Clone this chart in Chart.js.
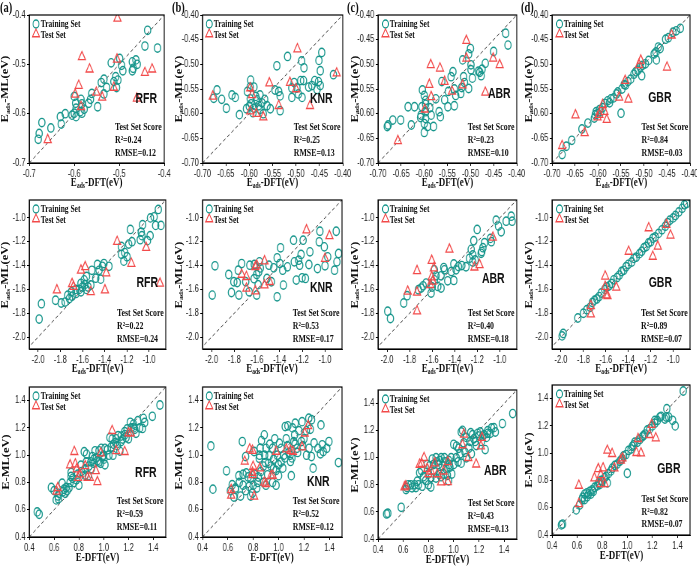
<!DOCTYPE html>
<html><head><meta charset="utf-8">
<script src="https://cdn.jsdelivr.net/npm/chart.js@4.4.1/dist/chart.umd.min.js"></script>
<style>
html,body{margin:0;padding:0;background:#fff;overflow:hidden;width:697px;height:571px}
#wrap{position:absolute;left:0;top:0;width:930px;height:571px;transform:scaleX(0.75);transform-origin:0 0;}
.abs{position:absolute;white-space:nowrap;line-height:1}
.ser{font-family:"Liberation Serif","Times New Roman",serif;font-weight:bold;color:#111}
.san{font-family:"Liberation Sans",Arial,sans-serif;font-weight:bold;color:#111}
canvas{position:absolute}
sub{font-size:0.62em;vertical-align:-0.25em}
</style></head><body><div id="wrap"></div>
<script>
// ---------------- DATA ----------------
const MODELS = ['RFR','KNR','ABR','GBR'];
const PANEL_LABELS = ['(a)','(b)','(c)','(d)'];
const R2_SCORES   = ['0.24','0.25','0.23','0.84','0.22','0.53','0.40','0.89','0.59','0.52','0.43','0.82'];
const RMSE_SCORES = ['0.12','0.13','0.10','0.03','0.24','0.17','0.18','0.07','0.11','0.12','0.13','0.07'];

const RANGE_R1 = [-0.7,-0.4];
const RANGE_R2X = [-2.08,-0.85];
const RANGE_R2Y = [-2.1,-0.85];
const RANGE_R3 = [0.4,1.5];
const DIAG_R1 = [-0.7,-0.4];
const DIAG_R2 = [-2.1,-0.85];
const DIAG_R3 = [0.4,1.5];

const TICKS_R1A = ['-0.7','-0.6','-0.5','-0.4'];
const TICKS_R1 = ['-0.70','-0.65','-0.60','-0.55','-0.50','-0.45','-0.40'];
const TICKS_R2 = ['-2.0','-1.8','-1.6','-1.4','-1.2','-1.0'];
const TICKS_R3 = ['0.4','0.6','0.8','1.0','1.2','1.4'];

const A1_TRAIN = [[-0.437,-0.431],[-0.443,-0.463],[-0.415,-0.467],[-0.499,-0.488],[-0.518,-0.497],[-0.495,-0.502],[-0.492,-0.513],[-0.471,-0.495],[-0.463,-0.491],[-0.46,-0.5],[-0.471,-0.513],[-0.469,-0.508],[-0.508,-0.525],[-0.503,-0.532],[-0.512,-0.535],[-0.506,-0.547],[-0.54,-0.537],[-0.534,-0.53],[-0.528,-0.547],[-0.534,-0.56],[-0.561,-0.559],[-0.564,-0.571],[-0.568,-0.579],[-0.548,-0.586],[-0.585,-0.571],[-0.583,-0.58],[-0.578,-0.591],[-0.587,-0.596],[-0.6,-0.565],[-0.597,-0.579],[-0.596,-0.589],[-0.6,-0.599],[-0.596,-0.606],[-0.605,-0.603],[-0.583,-0.599],[-0.62,-0.6],[-0.631,-0.606],[-0.629,-0.621],[-0.652,-0.629],[-0.672,-0.618],[-0.678,-0.64],[-0.68,-0.652]];
const A1_TEST = [[-0.504,-0.407],[-0.583,-0.485],[-0.566,-0.51],[-0.505,-0.49],[-0.443,-0.517],[-0.427,-0.51],[-0.461,-0.569],[-0.59,-0.543],[-0.598,-0.561],[-0.551,-0.557],[-0.538,-0.567],[-0.512,-0.547],[-0.585,-0.586],[-0.659,-0.653]];

const B1_TRAIN = [[-0.445,-0.476],[-0.451,-0.492],[-0.448,-0.513],[-0.42,-0.521],[-0.518,-0.484],[-0.488,-0.493],[-0.483,-0.507],[-0.541,-0.503],[-0.49,-0.533],[-0.484,-0.533],[-0.504,-0.537],[-0.509,-0.548],[-0.498,-0.548],[-0.473,-0.546],[-0.46,-0.533],[-0.452,-0.535],[-0.466,-0.543],[-0.455,-0.551],[-0.448,-0.543],[-0.545,-0.552],[-0.537,-0.555],[-0.534,-0.564],[-0.509,-0.567],[-0.495,-0.56],[-0.487,-0.567],[-0.555,-0.59],[-0.534,-0.594],[-0.562,-0.584],[-0.567,-0.571],[-0.597,-0.532],[-0.598,-0.546],[-0.604,-0.555],[-0.59,-0.546],[-0.586,-0.565],[-0.583,-0.572],[-0.577,-0.562],[-0.58,-0.584],[-0.59,-0.589],[-0.6,-0.585],[-0.577,-0.591],[-0.57,-0.6],[-0.669,-0.552],[-0.659,-0.571],[-0.637,-0.562],[-0.63,-0.567],[-0.649,-0.589],[-0.621,-0.602],[-0.676,-0.569],[-0.598,-0.57],[-0.596,-0.58],[-0.606,-0.59],[-0.592,-0.598],[-0.573,-0.578]];
const B1_TEST = [[-0.497,-0.469],[-0.413,-0.518],[-0.598,-0.548],[-0.594,-0.562],[-0.557,-0.538],[-0.513,-0.537],[-0.5,-0.55],[-0.537,-0.584],[-0.47,-0.584],[-0.598,-0.595],[-0.585,-0.6],[-0.57,-0.607],[-0.678,-0.565]];

const C1_TRAIN = [[-0.424,-0.437],[-0.419,-0.461],[-0.45,-0.474],[-0.5,-0.468],[-0.504,-0.479],[-0.517,-0.491],[-0.499,-0.501],[-0.499,-0.511],[-0.496,-0.528],[-0.468,-0.498],[-0.475,-0.51],[-0.48,-0.516],[-0.477,-0.523],[-0.483,-0.514],[-0.515,-0.525],[-0.513,-0.537],[-0.519,-0.547],[-0.504,-0.549],[-0.521,-0.559],[-0.538,-0.515],[-0.542,-0.525],[-0.535,-0.55],[-0.532,-0.563],[-0.535,-0.584],[-0.562,-0.535],[-0.548,-0.555],[-0.556,-0.572],[-0.549,-0.586],[-0.568,-0.596],[-0.565,-0.606],[-0.585,-0.603],[-0.58,-0.626],[-0.604,-0.552],[-0.6,-0.563],[-0.597,-0.573],[-0.597,-0.581],[-0.597,-0.596],[-0.597,-0.61],[-0.6,-0.62],[-0.6,-0.638],[-0.593,-0.626],[-0.605,-0.586],[-0.607,-0.603],[-0.608,-0.608],[-0.621,-0.586],[-0.635,-0.586],[-0.628,-0.623],[-0.651,-0.613],[-0.668,-0.613],[-0.678,-0.623],[-0.68,-0.626],[-0.575,-0.57],[-0.588,-0.588]];
const C1_TEST = [[-0.509,-0.452],[-0.509,-0.488],[-0.586,-0.501],[-0.566,-0.508],[-0.451,-0.488],[-0.437,-0.501],[-0.468,-0.557],[-0.556,-0.535],[-0.54,-0.555],[-0.517,-0.542],[-0.589,-0.541],[-0.585,-0.566],[-0.599,-0.591],[-0.657,-0.655]];

const D1_TRAIN = [[-0.678,-0.683],[-0.669,-0.666],[-0.657,-0.654],[-0.635,-0.631],[-0.622,-0.619],[-0.608,-0.609],[-0.606,-0.602],[-0.604,-0.596],[-0.601,-0.6],[-0.597,-0.592],[-0.594,-0.596],[-0.59,-0.588],[-0.585,-0.579],[-0.579,-0.574],[-0.575,-0.578],[-0.572,-0.57],[-0.566,-0.568],[-0.56,-0.56],[-0.557,-0.556],[-0.55,-0.599],[-0.548,-0.55],[-0.543,-0.541],[-0.54,-0.542],[-0.535,-0.535],[-0.529,-0.53],[-0.522,-0.52],[-0.518,-0.515],[-0.513,-0.512],[-0.508,-0.506],[-0.505,-0.523],[-0.503,-0.502],[-0.497,-0.499],[-0.49,-0.492],[-0.478,-0.479],[-0.474,-0.475],[-0.473,-0.491],[-0.469,-0.465],[-0.465,-0.468],[-0.453,-0.449],[-0.447,-0.446],[-0.437,-0.435],[-0.43,-0.432],[-0.421,-0.427]];
const D1_TEST = [[-0.44,-0.441],[-0.45,-0.506],[-0.507,-0.492],[-0.511,-0.501],[-0.541,-0.533],[-0.554,-0.567],[-0.534,-0.571],[-0.59,-0.582],[-0.597,-0.602],[-0.601,-0.607],[-0.586,-0.596],[-0.581,-0.612],[-0.649,-0.603],[-0.629,-0.639],[-0.678,-0.665]];

const A2_TRAIN = [[-0.917,-0.929],[-0.988,-1.0],[-0.955,-0.991],[-0.941,-1.063],[-0.893,-1.063],[-0.991,-1.149],[-1.015,-1.191],[-1.059,-1.057],[-1.071,-1.12],[-1.065,-1.149],[-1.08,-1.183],[-1.169,-1.097],[-1.154,-1.2],[-1.184,-1.22],[-1.22,-1.291],[-1.199,-1.326],[-1.228,-1.363],[-1.25,-1.24],[-1.249,-1.306],[-1.362,-1.406],[-1.407,-1.383],[-1.421,-1.406],[-1.451,-1.44],[-1.436,-1.514],[-1.481,-1.506],[-1.525,-1.563],[-1.516,-1.44],[-1.585,-1.52],[-1.564,-1.6],[-1.614,-1.549],[-1.629,-1.6],[-1.614,-1.62],[-1.659,-1.634],[-1.694,-1.657],[-1.718,-1.677],[-1.733,-1.649],[-1.757,-1.706],[-1.792,-1.714],[-1.843,-1.691],[-1.97,-1.72],[-1.991,-1.849],[-1.564,-1.491],[-1.466,-1.391],[-1.55,-1.58],[-1.58,-1.56],[-1.6,-1.58],[-1.66,-1.6],[-1.7,-1.62]];
const A2_TEST = [[-1.288,-1.2],[-1.16,-1.383],[-1.027,-1.249],[-0.902,-1.549],[-1.614,-1.44],[-1.576,-1.411],[-1.386,-1.463],[-1.398,-1.606],[-1.525,-1.62],[-1.694,-1.554],[-1.682,-1.577],[-1.831,-1.606]];

const B2_TRAIN = [[-1.97,-1.402],[-1.994,-1.648],[-1.045,-1.112],[-0.901,-1.112],[-1.051,-1.201],[-1.006,-1.243],[-0.88,-1.299],[-0.895,-1.369],[-0.976,-1.327],[-1.0,-1.402],[-1.066,-1.425],[-0.916,-1.439],[-1.133,-1.285],[-1.142,-1.391],[-1.193,-1.187],[-1.277,-1.187],[-1.392,-1.251],[-1.232,-1.355],[-1.223,-1.397],[-1.211,-1.307],[-1.271,-1.369],[-1.253,-1.522],[-1.202,-1.503],[-1.172,-1.508],[-1.331,-1.411],[-1.373,-1.439],[-1.422,-1.335],[-1.398,-1.383],[-1.452,-1.419],[-1.367,-1.564],[-1.422,-1.662],[-1.494,-1.397],[-1.473,-1.536],[-1.512,-1.508],[-1.578,-1.369],[-1.584,-1.452],[-1.602,-1.648],[-1.623,-1.391],[-1.663,-1.397],[-1.669,-1.62],[-1.699,-1.536],[-1.735,-1.383],[-1.765,-1.439],[-1.774,-1.542],[-1.759,-1.648],[-1.804,-1.536],[-1.849,-1.475],[-1.825,-1.626],[-1.602,-1.475],[-1.57,-1.42],[-1.625,-1.51],[-1.59,-1.56]];
const B2_TEST = [[-1.163,-1.103],[-0.961,-1.151],[-1.0,-1.341],[-1.533,-1.363],[-1.602,-1.397],[-1.614,-1.411],[-1.735,-1.475],[-1.693,-1.494],[-1.693,-1.592],[-1.614,-1.614],[-1.533,-1.564],[-1.488,-1.536]];

const C2_TRAIN = [[-0.899,-0.986],[-0.944,-1.028],[-1.033,-1.019],[-1.012,-1.069],[-0.988,-1.117],[-0.891,-1.028],[-1.201,-1.097],[-1.083,-1.172],[-1.075,-1.2],[-1.136,-1.208],[-1.16,-1.283],[-1.15,-1.25],[-1.166,-1.297],[-1.231,-1.192],[-1.254,-1.264],[-1.24,-1.311],[-1.269,-1.339],[-1.219,-1.353],[-1.337,-1.4],[-1.367,-1.408],[-1.388,-1.436],[-1.408,-1.386],[-1.408,-1.525],[-1.462,-1.528],[-1.491,-1.436],[-1.497,-1.417],[-1.521,-1.486],[-1.55,-1.575],[-1.521,-1.589],[-1.565,-1.486],[-1.58,-1.52],[-1.609,-1.631],[-1.654,-1.547],[-1.698,-1.589],[-1.722,-1.603],[-1.68,-1.57],[-1.822,-1.653],[-1.852,-1.714],[-1.994,-1.783],[-1.97,-1.844],[-1.58,-1.436],[-1.6,-1.58],[-1.24,-1.37],[-1.3,-1.41],[-1.43,-1.45]];
const C2_TEST = [[-1.447,-1.264],[-1.062,-1.164],[-1.734,-1.444],[-1.604,-1.358],[-1.586,-1.422],[-1.604,-1.497],[-1.595,-1.533],[-1.618,-1.561],[-1.817,-1.617],[-1.734,-1.625],[-1.734,-1.783],[-1.225,-1.414],[-1.18,-1.394]];

const D2_TRAIN = [[-1.99,-1.99],[-1.98,-1.97],[-1.85,-1.84],[-1.8,-1.8],[-1.77,-1.77],[-1.74,-1.75],[-1.72,-1.71],[-1.7,-1.69],[-1.68,-1.68],[-1.66,-1.66],[-1.64,-1.63],[-1.61,-1.6],[-1.59,-1.58],[-1.57,-1.57],[-1.55,-1.55],[-1.53,-1.52],[-1.5,-1.5],[-1.48,-1.48],[-1.46,-1.45],[-1.44,-1.44],[-1.42,-1.41],[-1.4,-1.39],[-1.37,-1.37],[-1.35,-1.34],[-1.33,-1.33],[-1.3,-1.3],[-1.28,-1.28],[-1.26,-1.25],[-1.24,-1.24],[-1.22,-1.21],[-1.2,-1.2],[-1.18,-1.17],[-1.16,-1.16],[-1.13,-1.13],[-1.1,-1.1],[-1.07,-1.07],[-1.05,-1.04],[-1.03,-1.02],[-1.0,-1.0],[-0.98,-0.98],[-0.95,-0.95],[-0.92,-0.92],[-0.9,-0.89],[-0.88,-0.88]];
const D2_TEST = [[-1.218,-1.085],[-1.06,-1.056],[-1.024,-1.146],[-1.397,-1.282],[-1.137,-1.239],[-1.182,-1.324],[-1.606,-1.49],[-1.606,-1.577],[-1.597,-1.648],[-1.507,-1.583],[-1.734,-1.738],[-1.734,-1.808],[-1.585,-1.654]];

const A3_TRAIN = [[0.464,0.584],[0.48,0.567],[0.578,0.763],[0.617,0.672],[0.631,0.701],[0.635,0.68],[0.665,0.795],[0.671,0.731],[0.697,0.763],[0.705,0.74],[0.729,0.8],[0.737,0.844],[0.737,0.873],[0.76,0.8],[0.79,0.861],[0.8,0.78],[0.816,0.927],[0.843,1.025],[0.862,1.008],[0.851,0.853],[0.875,0.85],[0.896,0.951],[0.909,0.99],[0.92,0.94],[0.949,0.959],[0.93,1.032],[0.94,0.98],[0.962,1.032],[0.975,0.94],[0.989,0.99],[1.002,0.971],[1.01,1.05],[1.01,0.93],[1.042,1.0],[1.05,1.13],[1.068,1.118],[1.075,1.0],[1.095,1.094],[1.11,1.07],[1.116,1.143],[1.13,1.03],[1.14,1.1],[1.153,1.118],[1.169,1.172],[1.18,1.13],[1.188,1.192],[1.2,1.12],[1.214,1.241],[1.24,1.228],[1.25,1.19],[1.26,1.16],[1.275,1.253],[1.29,1.2],[1.312,1.196],[1.32,1.27],[1.33,1.24],[1.392,1.285],[1.453,1.368],[0.68,0.75],[0.72,0.76],[0.75,0.83],[0.78,0.82],[0.82,0.88],[0.85,0.9],[0.86,0.95],[0.88,0.92],[0.9,0.9],[0.92,0.97],[0.96,0.95],[0.98,1.05],[1.0,1.0],[1.03,1.04],[1.06,1.06],[1.08,1.08],[1.1,1.12],[1.14,1.14],[1.17,1.15],[1.22,1.2],[1.24,1.2],[0.6,0.74],[0.64,0.72],[0.69,0.72]];
const A3_TEST = [[0.763,1.025],[0.729,0.927],[0.771,0.934],[0.782,0.898],[0.793,0.836],[0.808,0.861],[0.851,0.922],[0.87,0.836],[0.888,0.836],[0.936,0.885],[0.949,0.804],[0.976,1.015],[1.068,1.179],[1.1,1.032],[1.169,1.025],[1.2,1.162],[1.219,1.162],[0.62,0.735],[0.63,0.76]];

const B3_TRAIN = [[0.466,1.068],[0.482,0.751],[0.589,0.885],[0.634,0.783],[0.647,0.693],[0.66,0.75],[0.687,0.849],[0.69,0.8],[0.714,1.1],[0.72,0.86],[0.74,0.99],[0.745,0.87],[0.78,0.832],[0.767,0.771],[0.794,0.722],[0.828,0.759],[0.835,0.8],[0.807,1.027],[0.847,0.978],[0.855,1.051],[0.865,1.107],[0.887,1.149],[0.88,0.92],[0.895,0.946],[0.9,1.05],[0.913,0.856],[0.926,0.995],[0.94,0.92],[0.953,1.051],[0.953,0.8],[0.96,0.97],[0.98,0.888],[0.99,1.0],[1.006,1.088],[1.0,0.85],[1.02,0.95],[1.033,0.905],[1.04,1.0],[1.052,1.21],[1.073,1.215],[1.06,1.12],[1.07,1.07],[1.08,1.02],[1.094,0.954],[1.1,0.85],[1.105,0.98],[1.126,1.149],[1.13,1.08],[1.145,1.05],[1.15,1.02],[1.131,1.234],[1.185,1.246],[1.19,1.07],[1.2,1.12],[1.219,1.18],[1.238,1.271],[1.25,1.19],[1.259,0.99],[1.26,1.26],[1.28,1.09],[1.31,1.05],[1.334,1.222],[1.344,1.076],[1.352,1.027],[1.33,1.01],[1.272,0.905],[1.38,1.05],[1.397,1.1],[1.472,0.946],[0.7,0.7],[0.74,0.74],[0.78,0.7],[0.8,0.78],[0.72,0.78],[0.76,0.84],[0.81,0.86],[0.84,0.84],[0.86,0.88],[0.88,0.8],[0.9,0.78],[0.92,0.94],[0.96,0.9],[0.98,0.78],[1.0,0.93],[1.02,1.05],[1.05,0.98],[1.09,1.0],[1.12,1.1],[1.16,1.18],[1.18,1.1],[1.22,1.0],[1.24,1.05],[0.85,1.0],[0.89,1.0],[0.93,1.08],[0.97,1.12],[1.11,1.2],[0.62,0.74],[0.66,0.76]];
const B3_TEST = [[0.772,1.044],[0.794,1.034],[0.733,0.954],[0.799,0.917],[0.794,0.873],[0.852,0.905],[0.794,0.856],[0.626,0.705],[0.626,0.746],[0.807,0.698],[0.887,0.8],[0.9,0.79],[0.94,0.849],[0.953,0.851],[0.98,1.027],[1.06,1.044],[1.094,1.034],[1.113,1.027],[1.185,1.059],[1.206,1.161],[1.233,1.215]];

const C3_TRAIN = [[0.468,0.585],[0.478,0.59],[0.584,0.634],[0.622,0.765],[0.63,0.78],[0.67,0.778],[0.69,0.8],[0.711,0.827],[0.73,0.889],[0.745,0.905],[0.778,0.832],[0.8,0.88],[0.81,0.94],[0.819,0.783],[0.83,0.99],[0.846,0.901],[0.86,1.0],[0.87,0.97],[0.886,0.877],[0.9,1.0],[0.91,0.94],[0.927,1.0],[0.94,0.92],[0.95,0.87],[0.96,0.83],[0.965,0.95],[0.98,1.0],[0.985,0.88],[1.0,1.099],[1.022,1.086],[1.035,0.97],[1.05,1.03],[1.06,0.96],[1.07,1.202],[1.08,1.11],[1.09,1.04],[1.12,1.07],[1.135,1.185],[1.14,1.03],[1.16,1.14],[1.18,1.09],[1.2,1.16],[1.22,1.12],[1.23,1.16],[1.25,1.06],[1.26,1.15],[1.29,1.18],[1.319,1.222],[1.33,1.19],[1.386,1.252],[1.468,1.326],[0.64,0.8],[0.66,0.8],[0.7,0.78],[0.72,0.8],[0.75,0.79],[0.76,0.86],[0.79,0.95],[0.8,0.8],[0.82,0.85],[0.84,0.95],[0.86,0.85],[0.88,0.95],[0.89,0.98],[0.9,0.86],[0.92,0.88],[0.93,0.97],[0.96,0.98],[0.97,0.93],[1.0,0.95],[1.02,1.0],[1.04,1.07],[1.06,1.19],[1.1,1.0],[1.1,1.15],[1.13,1.12],[1.15,1.17],[1.17,1.12],[1.19,1.18],[1.21,1.19],[1.24,1.17],[1.27,1.18],[1.3,1.22],[1.27,1.2]];
const C3_TEST = [[0.765,1.0],[0.73,0.95],[0.746,0.956],[0.79,0.92],[0.8,0.88],[0.82,0.9],[0.85,0.96],[0.87,0.88],[0.9,0.82],[0.92,0.9],[0.954,0.97],[0.954,0.822],[0.61,0.783],[0.62,0.79],[1.081,1.173],[1.07,1.094],[1.116,1.0],[1.178,0.952],[1.216,1.086],[1.224,1.148]];

const D3_TRAIN = [[0.475,0.474],[0.485,0.48],[0.593,0.584],[0.62,0.62],[0.64,0.66],[0.645,0.677],[0.66,0.66],[0.678,0.709],[0.69,0.7],[0.7,0.72],[0.72,0.73],[0.74,0.75],[0.76,0.76],[0.77,0.78],[0.79,0.8],[0.8,0.79],[0.841,0.782],[0.83,0.83],[0.85,0.85],[0.87,0.87],[0.88,0.89],[0.9,0.91],[0.92,0.92],[0.94,0.94],[0.96,0.96],[0.97,0.98],[0.99,0.99],[1.0,0.853],[1.01,1.02],[1.03,1.03],[1.05,1.06],[1.06,1.08],[1.08,1.08],[1.1,1.1],[1.12,1.12],[1.14,1.14],[1.16,1.17],[1.18,1.18],[1.2,1.2],[1.22,1.22],[1.24,1.24],[1.26,1.265],[1.27,1.27],[1.3,1.25],[1.31,1.265],[1.315,1.326],[1.33,1.265],[1.361,1.241],[1.382,1.2],[1.446,1.456],[0.68,0.68],[0.73,0.72],[0.82,0.82],[0.95,0.95],[1.04,1.05],[1.13,1.13],[1.22,1.24],[0.66,0.7],[0.71,0.7],[0.78,0.77]];
const D3_TEST = [[0.614,0.763],[0.614,0.628],[0.738,0.817],[0.769,0.885],[0.807,0.89],[0.789,0.841],[0.82,0.775],[0.789,0.775],[0.841,1.02],[0.879,0.996],[0.897,0.89],[0.962,0.964],[0.949,0.947],[1.073,1.003],[1.086,1.106],[1.109,1.0],[1.176,1.135],[1.194,1.209],[1.227,1.111]];

// ---------------- LAYOUT (page px) ----------------
const S = 0.75;
const TEAL = '#17968c', RED = '#f24a4a';
const LAYOUT = [
 {L:29.3,T:15,R:164,B:163,mx:7,my:83},
 {L:202.3,T:15,R:342.7,B:163,mx:10,my:83},
 {L:378.3,T:15,R:516.7,B:163,mx:6,my:78},
 {L:552.3,T:15,R:690.5,B:163,mx:19,my:82},
 {L:29.3,T:200,R:166,B:349,mx:8,my:82},
 {L:202.3,T:200,R:341.7,B:349,mx:9,my:87},
 {L:378.3,T:200,R:516.7,B:349,mx:12,my:78},
 {L:552.3,T:200,R:690,B:349,mx:18,my:82},
 {L:29.3,T:387,R:165.7,B:537,mx:9,my:85},
 {L:202.3,T:387,R:341.7,B:537,mx:12,my:94},
 {L:378.3,T:390,R:516.7,B:539,mx:10,my:80},
 {L:552.3,T:385,R:690.5,B:534.5,mx:10,my:83}
];
const PANELS = [
 {train:A1_TRAIN,test:A1_TEST,xr:RANGE_R1,yr:RANGE_R1,ticks:TICKS_R1A,diag:DIAG_R1,row:1},
 {train:B1_TRAIN,test:B1_TEST,xr:RANGE_R1,yr:RANGE_R1,ticks:TICKS_R1,diag:DIAG_R1,row:1},
 {train:C1_TRAIN,test:C1_TEST,xr:RANGE_R1,yr:RANGE_R1,ticks:TICKS_R1,diag:DIAG_R1,row:1},
 {train:D1_TRAIN,test:D1_TEST,xr:RANGE_R1,yr:RANGE_R1,ticks:TICKS_R1,diag:DIAG_R1,row:1},
 {train:A2_TRAIN,test:A2_TEST,xr:RANGE_R2X,yr:RANGE_R2Y,ticks:TICKS_R2,diag:DIAG_R2,row:2},
 {train:B2_TRAIN,test:B2_TEST,xr:RANGE_R2X,yr:RANGE_R2Y,ticks:TICKS_R2,diag:DIAG_R2,row:2},
 {train:C2_TRAIN,test:C2_TEST,xr:RANGE_R2X,yr:RANGE_R2Y,ticks:TICKS_R2,diag:DIAG_R2,row:2},
 {train:D2_TRAIN,test:D2_TEST,xr:RANGE_R2X,yr:RANGE_R2Y,ticks:TICKS_R2,diag:DIAG_R2,row:2},
 {train:A3_TRAIN,test:A3_TEST,xr:RANGE_R3,yr:RANGE_R3,ticks:TICKS_R3,diag:DIAG_R3,row:3},
 {train:B3_TRAIN,test:B3_TEST,xr:RANGE_R3,yr:RANGE_R3,ticks:TICKS_R3,diag:DIAG_R3,row:3},
 {train:C3_TRAIN,test:C3_TEST,xr:RANGE_R3,yr:RANGE_R3,ticks:TICKS_R3,diag:DIAG_R3,row:3},
 {train:D3_TRAIN,test:D3_TEST,xr:RANGE_R3,yr:RANGE_R3,ticks:TICKS_R3,diag:DIAG_R3,row:3}
];

const wrap = document.getElementById('wrap');
function txt(html, cls, px, py, tf, size){
  const d=document.createElement('div');
  d.className='abs '+cls; d.innerHTML=html;
  d.style.left=(px/S)+'px'; d.style.top=py+'px';
  d.style.transform=tf||'translate(0,-50%)';
  if(size) d.style.fontSize=size+'px';
  wrap.appendChild(d); return d;
}
const framePlugin = {id:'frame', afterDatasetsDraw(c){const a=c.chartArea,x=c.ctx;x.save();x.strokeStyle='#000';x.lineWidth=1.2;x.strokeRect(a.left,a.top,a.right-a.left,a.bottom-a.top);x.restore();}};

const AX=36, XB=17, PT=8, PR=17;
PANELS.forEach((p,i)=>{
  const g=LAYOUT[i];
  const W=(g.R-g.L)/S, H=g.B-g.T;
  const cv=document.createElement('canvas');
  const cw=Math.round(W+AX+PR), ch=Math.round(H+PT+XB);
  cv.width=cw; cv.height=ch; cv.style.width=cw+'px'; cv.style.height=ch+'px';
  cv.style.left=(g.L/S-AX)+'px'; cv.style.top=(g.T-PT)+'px';
  wrap.appendChild(cv);
  const tickVals=p.ticks.map(Number);
  const lab=v=>{const s=p.ticks.find(t=>Math.abs(Number(t)-v)<1e-9);return s===undefined?'':s;};
  const scale=(r,isX)=>({type:'linear',min:r[0],max:r[1],
    afterFit:s=>{ if(isX) s.height=XB; else s.width=AX; },
    afterBuildTicks:s=>{s.ticks=tickVals.map(v=>({value:v}));},
    ticks:{autoSkip:false,maxRotation:0,padding:2,color:'#222',font:{family:'"Liberation Sans", Arial, sans-serif',size:10},callback:v=>lab(v)},
    grid:{drawOnChartArea:false,drawTicks:true,tickLength:3,color:'#000',tickColor:'#000'},
    border:{display:true,color:'#000',width:1}
  });
  new Chart(cv,{type:'scatter',
    data:{datasets:[
      {label:'Test Set',data:p.test.map(([x,y])=>({x,y})),pointStyle:'triangle',pointRadius:5.5,borderColor:RED,backgroundColor:'rgba(0,0,0,0)',pointBorderWidth:1.3},
      {label:'Training Set',data:p.train.map(([x,y])=>({x,y})),pointStyle:'circle',pointRadius:4.2,borderColor:TEAL,backgroundColor:'rgba(0,0,0,0)',pointBorderWidth:1.4},
      {type:'line',label:'y = x',data:p.diag.map(v=>({x:v,y:v})),borderColor:'#444',borderWidth:1,borderDash:[4,3],pointRadius:0,fill:false}
    ]},
    options:{responsive:false,animation:false,events:[],
      layout:{padding:{left:0,top:PT,right:PR,bottom:0}},
      plugins:{legend:{display:false},tooltip:{enabled:false}},
      scales:{x:scale(p.xr,true),y:scale(p.yr,false)}},
    plugins:[framePlugin]
  });
  // legend
  const lgY1=g.T+9, lgY2=g.T+19.5;
  txt('<svg width="10" height="10"><circle cx="5" cy="5" r="4" fill="none" stroke="'+TEAL+'" stroke-width="1.4"/></svg>','',g.L+7,lgY1,'translate(-50%,-50%)');
  txt('<svg width="12" height="12"><polygon points="6,1 10.76,8.75 1.24,8.75" fill="none" stroke="'+RED+'" stroke-width="1.3"/></svg>','',g.L+7,lgY2,'translate(-50%,-50%)');
  txt('Training Set','ser',g.L+11.5,lgY1,null,10);
  txt('Test Set','ser',g.L+11.5,lgY2,null,10);
  // model name
  txt(MODELS[i%4],'san',g.R-g.mx,g.T+g.my,'translate(-100%,-50%)',14);
  // score
  txt('Test Set Score','ser',g.R-49,g.B-36,null,10.5);
  txt('R\u00B2='+R2_SCORES[i],'ser',g.R-49,g.B-23,null,10.5);
  txt('RMSE='+RMSE_SCORES[i],'ser',g.R-49,g.B-10.5,null,10.5);
  // axis titles
  const xt = p.row===3 ? 'E-DFT(eV)' : 'E<sub>ads</sub>-DFT(eV)';
  const yt = p.row===3 ? 'E-ML(eV)' : 'E<sub>ads</sub>-ML(eV)';
  txt(xt,'ser',(g.L+g.R)/2,g.B+20,'translate(-50%,-50%)',12);
  txt(yt,'ser',g.L-23,(g.T+g.B)/2,'translate(-50%,-50%) rotate(-90deg)',12.5);
  if(p.row===1) txt(PANEL_LABELS[i],'ser',[0,172,347,521][i],8,'translate(0,-50%)',14);
});
</script></body></html>
